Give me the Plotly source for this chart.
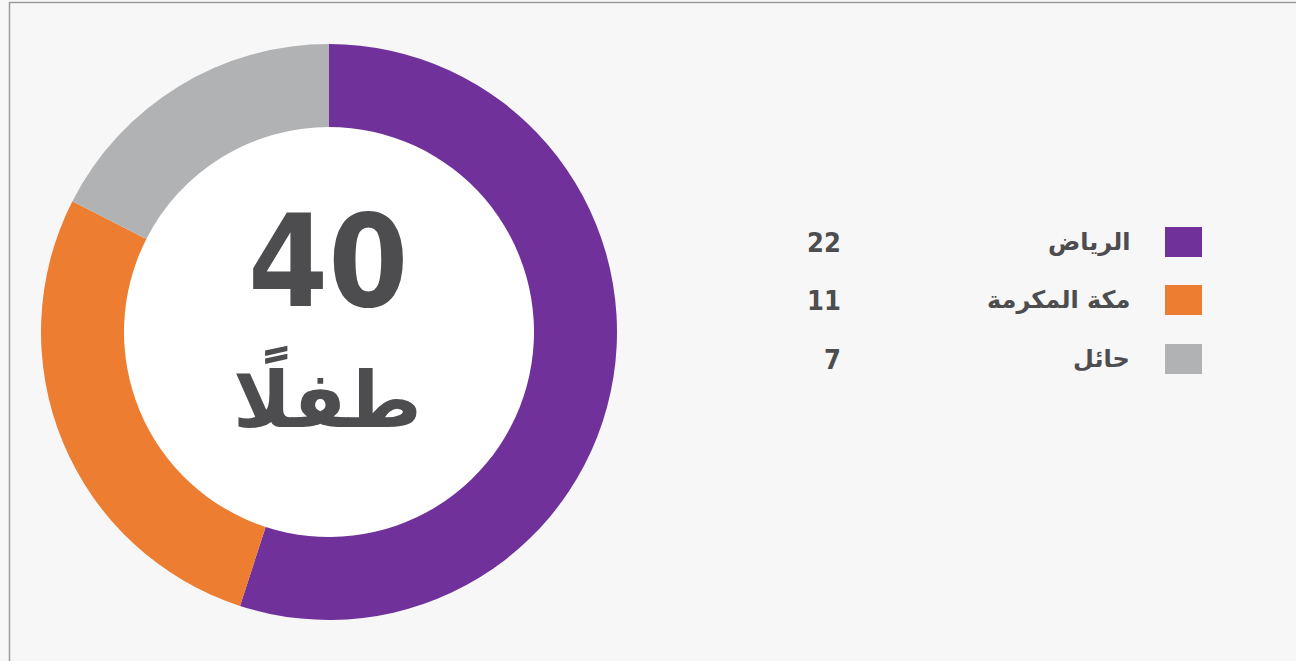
import plotly.graph_objects as go

regions = ["الرياض", "مكة المكرمة", "حائل"]
counts = [22, 11, 7]
colors = ["#70319b", "#ed7d31", "#b1b2b4"]
total_label = "40"
unit_label = "طفلًا"

W, H = 1296, 661
cx, cy, r_out, r_in = 329, 332, 288, 205

def px(x):
    return x / W

def py(y):
    return 1 - y / H

fig = go.Figure()
fig.add_trace(go.Pie(
    labels=regions, values=counts, sort=False, direction="clockwise", rotation=0,
    hole=r_in / r_out, marker=dict(colors=colors, line=dict(width=0)),
    textinfo="none", hoverinfo="label+value", showlegend=False,
    domain=dict(x=[px(cx - r_out), px(cx + r_out)], y=[py(cy + r_out), py(cy - r_out)]),
))

shapes = [
    # white hole
    dict(type="circle", xref="paper", yref="paper", layer="below",
         x0=px(cx - r_in), x1=px(cx + r_in), y0=py(cy + r_in), y1=py(cy - r_in),
         fillcolor="white", line=dict(width=0)),
    # frame lines
    dict(type="line", xref="paper", yref="paper", x0=px(9.5), x1=px(9.5), y0=0, y1=py(2),
         line=dict(color="#9a9a9a", width=1.5)),
    dict(type="line", xref="paper", yref="paper", x0=px(9), x1=1, y0=py(2.5), y1=py(2.5),
         line=dict(color="#9a9a9a", width=1.5)),
]

annotations = [
    dict(text=f"<b>{total_label}</b>", x=px(cx - 1), y=py(261), xref="paper", yref="paper",
         showarrow=False, font=dict(family="DejaVu Sans Condensed", size=128, color="#4d4d4f"),
         xanchor="center", yanchor="middle"),
    dict(text=f"<b>{unit_label}</b>", x=px(cx - 2), y=py(395), xref="paper", yref="paper",
         showarrow=False, font=dict(family="DejaVu Sans", size=78, color="#4d4d4f"),
         xanchor="center", yanchor="middle"),
]

row_y = [242, 300, 359]
for name, val, col, yy in zip(regions, counts, colors, row_y):
    shapes.append(dict(type="rect", xref="paper", yref="paper",
                       x0=px(1165), x1=px(1202), y0=py(yy + 15), y1=py(yy - 15),
                       fillcolor=col, line=dict(width=0)))
    annotations.append(dict(text=f"<b>{name}</b>", x=px(1132), y=py(yy), xref="paper", yref="paper",
                            showarrow=False, xanchor="right", yanchor="middle",
                            font=dict(family="DejaVu Sans", size=24, color="#4d4d4f")))
    annotations.append(dict(text=f"<b>{val}</b>", x=px(843), y=py(yy), xref="paper", yref="paper",
                            showarrow=False, xanchor="right", yanchor="middle",
                            font=dict(family="DejaVu Sans Condensed", size=27, color="#4d4d4f")))

fig.update_layout(
    width=W, height=H, margin=dict(l=0, r=0, t=0, b=0),
    paper_bgcolor="#f7f7f7", plot_bgcolor="#f7f7f7",
    shapes=shapes, annotations=annotations, showlegend=False,
)

fig.write_html("out.html")
